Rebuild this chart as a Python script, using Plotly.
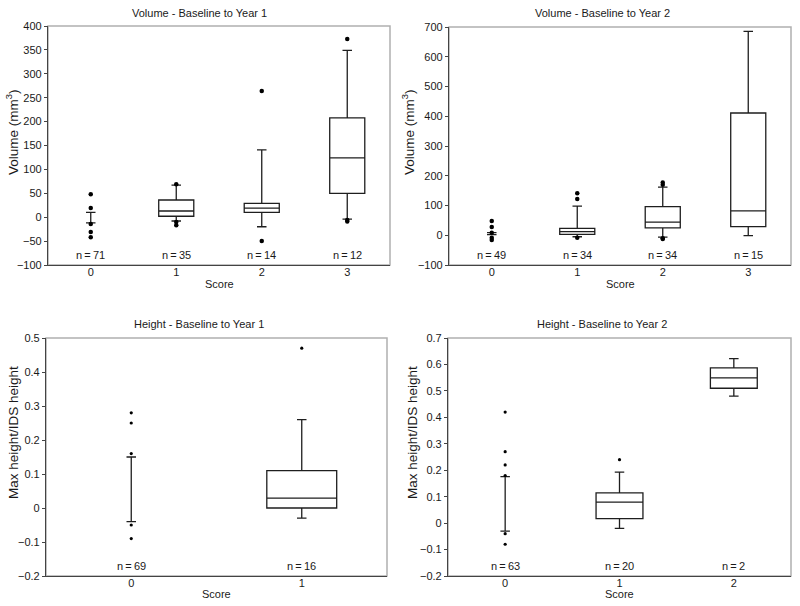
import plotly.graph_objects as go

# ---------------- data ----------------
# Volume - Baseline to Year 1
vol1_scores = [0, 1, 2, 3]
vol1_n = [71, 35, 14, 12]
vol1_q1 = [-12, 2, 10, 50]
vol1_med = [-12, 13, 19, 124]
vol1_q3 = [-12, 36, 29, 208]
vol1_lo = [-12, -8, -20, -4]
vol1_hi = [10, 67, 141, 349]
vol1_out_x = [0, 0, 0, 0, 0, 1, 1, 1, 2, 2, 3, 3, 3]
vol1_out_y = [48, 19, -14, -31, -42, 69, -10, -17, 264, -50, 373, -6, -9]

# Volume - Baseline to Year 2
vol2_scores = [0, 1, 2, 3]
vol2_n = [49, 34, 34, 15]
vol2_q1 = [2, 3, 25, 29]
vol2_med = [2, 12, 44, 82]
vol2_q3 = [2, 23, 96, 411]
vol2_lo = [2, -5, -6, -1]
vol2_hi = [9, 98, 162, 685]
vol2_out_x = [0, 0, 0, 0, 0, 1, 1, 1, 2, 2, 2, 2]
vol2_out_y = [48, 28, 8, -8, -16, 141, 122, -8, 177, 170, -10, -13]

# Height - Baseline to Year 1
hgt1_scores = [0, 1]
hgt1_n = [69, 16]
hgt1_q1 = [-0.04, 0.0]
hgt1_med = [-0.04, 0.029]
hgt1_q3 = [-0.04, 0.11]
hgt1_lo = [-0.04, -0.03]
hgt1_hi = [0.15, 0.26]
hgt1_out_x = [0, 0, 0, 0, 0, 1]
hgt1_out_y = [0.28, 0.25, 0.16, -0.05, -0.09, 0.47]

# Height - Baseline to Year 2
hgt2_scores = [0, 1, 2]
hgt2_n = [63, 20, 2]
hgt2_q1 = [-0.03, 0.017, 0.51]
hgt2_med = [-0.03, 0.079, 0.549]
hgt2_q3 = [-0.03, 0.114, 0.587]
hgt2_lo = [-0.03, -0.02, 0.48]
hgt2_hi = [0.176, 0.193, 0.622]
hgt2_out_x = [0, 0, 0, 0, 0, 0, 1]
hgt2_out_y = [0.42, 0.27, 0.22, 0.18, -0.04, -0.08, 0.24]

titles = ["Volume - Baseline to Year 1", "Volume - Baseline to Year 2",
          "Height - Baseline to Year 1", "Height - Baseline to Year 2"]
y_titles = ["Volume (mm<sup>3</sup>)", "Volume (mm<sup>3</sup>)",
            "Max height/IDS height", "Max height/IDS height"]
x_title = "Score"
y_ranges = [[-100, 400], [-100, 700], [-0.2, 0.5], [-0.2, 0.7]]
y_dticks = [50, 100, 0.1, 0.1]

# ---------------- layout geometry (pixels) ----------------
W, H = 800, 606
# (left, right, top, bottom) in px
boxes_px = [(48, 390, 26, 265), (449, 791, 27, 265),
            (46, 387, 338, 576), (448, 791, 338, 576)]
title_px = [(199, 13), (602, 13), (199, 324), (602, 324)]
ytitle_px = [(12, 132), (408, 132), (13, 433), (412, 433)]
xtitle_py = [284, 284, 594, 594]

panels = [
    dict(s=vol1_scores, n=vol1_n, q1=vol1_q1, med=vol1_med, q3=vol1_q3, lo=vol1_lo, hi=vol1_hi,
         ox=vol1_out_x, oy=vol1_out_y, msize=4.5),
    dict(s=vol2_scores, n=vol2_n, q1=vol2_q1, med=vol2_med, q3=vol2_q3, lo=vol2_lo, hi=vol2_hi,
         ox=vol2_out_x, oy=vol2_out_y, msize=4.5),
    dict(s=hgt1_scores, n=hgt1_n, q1=hgt1_q1, med=hgt1_med, q3=hgt1_q3, lo=hgt1_lo, hi=hgt1_hi,
         ox=hgt1_out_x, oy=hgt1_out_y, msize=3.2),
    dict(s=hgt2_scores, n=hgt2_n, q1=hgt2_q1, med=hgt2_med, q3=hgt2_q3, lo=hgt2_lo, hi=hgt2_hi,
         ox=hgt2_out_x, oy=hgt2_out_y, msize=3.2),
]

LINE = "#1e1e1e"
TXT = "#1a1a1a"
FONT = "Liberation Sans, Arial, sans-serif"
fig = go.Figure()
annotations = []
shapes = []
layout = {}

for i, p in enumerate(panels):
    k = "" if i == 0 else str(i + 1)
    xa, ya = "x" + k, "y" + k
    l, r, t, b = boxes_px[i]
    ncat = len(p["s"])
    cat_px = (r - l) / ncat
    box_w = 0.41
    cap_px = 9.5
    for j, sc in enumerate(p["s"]):
        degenerate = p["q1"][j] == p["q3"][j]
        w = cap_px / cat_px if degenerate else box_w
        ww = 1.0 if degenerate else cap_px / (box_w * cat_px)
        fig.add_trace(go.Box(
            x=[sc], q1=[p["q1"][j]], median=[p["med"][j]], q3=[p["q3"][j]],
            lowerfence=[p["lo"][j]], upperfence=[p["hi"][j]],
            width=w, whiskerwidth=ww, boxpoints=False,
            line=dict(color=LINE, width=1.3), fillcolor="white",
            xaxis=xa, yaxis=ya, showlegend=False, hoverinfo="skip"))
    fig.add_trace(go.Scatter(
        x=p["ox"], y=p["oy"], mode="markers",
        marker=dict(color="black", size=p["msize"], symbol="circle"),
        xaxis=xa, yaxis=ya, showlegend=False, hoverinfo="skip"))

    layout["xaxis" + k] = dict(
        domain=[l / W, r / W], anchor=ya, range=[-0.5, ncat - 0.5], automargin=False,
        tickmode="array", tickvals=p["s"], ticktext=[str(s) for s in p["s"]],
        showgrid=False, zeroline=False, showline=True, linecolor="#444", linewidth=1.2,
        ticks="", ticklabelstandoff=-3, tickfont=dict(size=11, color=TXT, family=FONT))
    layout["yaxis" + k] = dict(
        domain=[1 - b / H, 1 - t / H], anchor=xa, range=y_ranges[i], dtick=y_dticks[i],
        tick0=0, showgrid=False, zeroline=False, showline=True, linecolor="#444", linewidth=1.2,
        ticks="outside", ticklen=3, tickcolor="#444", automargin=False,
        tickfont=dict(size=11, color=TXT, family=FONT))
    shapes.append(dict(type="rect", xref=xa + " domain", yref=ya + " domain",
                       x0=0, x1=1, y0=0, y1=1, line=dict(color="#b0b0b0", width=1.5),
                       layer="below"))
    for j, sc in enumerate(p["s"]):
        annotations.append(dict(x=sc, xref=xa, y=0.04, yref=ya + " domain",
                                text="n\u2009=\u2009%d" % p["n"][j], showarrow=False,
                                font=dict(size=11, color=TXT, family=FONT),
                                xanchor="center", yanchor="middle"))
    tx, ty = title_px[i]
    annotations.append(dict(x=tx / W, y=1 - ty / H, xref="paper", yref="paper",
                            text=titles[i], showarrow=False,
                            font=dict(size=11, color=TXT, family=FONT),
                            xanchor="center", yanchor="middle"))
    yx, yy = ytitle_px[i]
    annotations.append(dict(x=yx / W, y=1 - yy / H, xref="paper", yref="paper",
                            text=y_titles[i], showarrow=False, textangle=-90,
                            font=dict(size=13.5, color=TXT, family=FONT),
                            xanchor="center", yanchor="middle"))
    annotations.append(dict(x=(l + r) / 2 / W, y=1 - xtitle_py[i] / H,
                            xref="paper", yref="paper",
                            text=x_title, showarrow=False,
                            font=dict(size=11, color=TXT, family=FONT),
                            xanchor="center", yanchor="middle"))

fig.update_layout(
    width=W, height=H, margin=dict(l=0, r=0, t=0, b=0, autoexpand=False),
    paper_bgcolor="white", plot_bgcolor="white",
    boxmode="overlay", annotations=annotations, shapes=shapes,
    font=dict(family=FONT, color=TXT), **layout)

fig.write_html("out.html", config={"displayModeBar": False},
               post_script="document.body.style.margin='0';document.body.style.padding='0';"
                           "document.body.style.overflow='hidden';")
